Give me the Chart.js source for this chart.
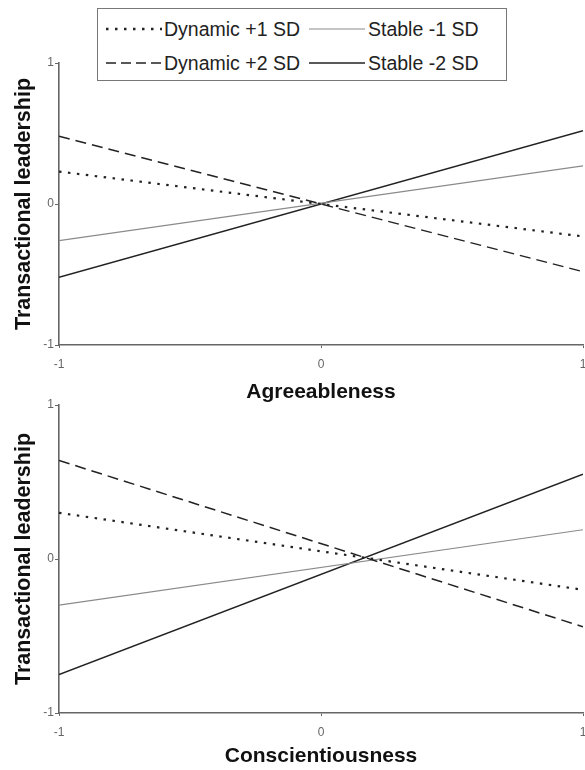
<!DOCTYPE html>
<html>
<head>
<meta charset="utf-8">
<script src="https://cdn.jsdelivr.net/npm/chart.js@4/dist/chart.umd.min.js"></script>
<style>
  html, body { margin: 0; padding: 0; background: #fff; overflow: hidden; width: 585px; height: 770px; }
  #c1 { position: absolute; left: 0; top: 0; }
  #c2 { position: absolute; left: 0; top: 390px; }
  #legend { position: absolute; left: 97px; top: 8px; width: 408px; height: 71px; border: 1px solid #777; background: #fff; z-index: 5;
            font-family: "Liberation Sans", Arial, sans-serif; font-size: 19.5px; color: #222; }
  .lab { position: absolute; white-space: nowrap; line-height: 20px; }
  .sw { position: absolute; }
</style>
</head>
<body>
<canvas id="c1" width="600" height="410"></canvas>
<canvas id="c2" width="600" height="380"></canvas>
<div id="legend"></div>
<script>
// ---- data ----
const xPoints = [-1, 1];
const xTicks = [-1, 0, 1];
const yTicks = [-1, 0, 1];
const seriesNames = ["Dynamic +1 SD", "Dynamic +2 SD", "Stable -1 SD", "Stable -2 SD"];

const agreeDynamic1 = [0.23, -0.23];
const agreeDynamic2 = [0.48, -0.48];
const agreeStable1  = [-0.26, 0.27];
const agreeStable2  = [-0.52, 0.52];

const conscDynamic1 = [0.30, -0.20];
const conscDynamic2 = [0.64, -0.44];
const conscStable1  = [-0.30, 0.19];
const conscStable2  = [-0.75, 0.55];

// ---- styles ----
const styles = [
  { borderColor: '#222', borderWidth: 2.2, borderDash: [2.5, 6.5], svgW: 2.4, svgDash: '2.5 6.5' },
  { borderColor: '#222', borderWidth: 1.5, borderDash: [11, 6], svgW: 1.6, svgDash: '10 5' },
  { borderColor: '#8a8a8a', borderWidth: 1.2, borderDash: [], svgW: 1.2, svgDash: '' },
  { borderColor: '#222', borderWidth: 1.5, borderDash: [], svgW: 1.6, svgDash: '' }
];

function mkDatasets(arrs) {
  return arrs.map((vals, i) => ({
    label: seriesNames[i],
    data: xPoints.map((x, j) => ({ x: x, y: vals[j] })),
    borderColor: styles[i].borderColor,
    borderWidth: styles[i].borderWidth,
    borderDash: styles[i].borderDash,
    pointRadius: 0,
    fill: false,
    tension: 0
  }));
}

const FONT = '"Liberation Sans", Arial, sans-serif';
const axisColor = '#666';

function mkOptions(xTitle, padTop, xAxisH, titlePadBottom) {
  return {
    responsive: false,
    animation: false,
    layout: { padding: { top: padTop, right: 17, left: 0, bottom: 0 } },
    plugins: { legend: { display: false }, tooltip: { enabled: false } },
    scales: {
      x: {
        type: 'linear', min: -1, max: 1,
        afterBuildTicks: s => { s.ticks = xTicks.map(v => ({ value: v })); },
        afterFit: s => { s.height = xAxisH; },
        ticks: { color: '#666', font: { family: FONT, size: 12 }, padding: 9, maxRotation: 0,
                 callback: v => String(v) },
        grid: { drawOnChartArea: false, drawTicks: true, tickLength: 3, color: axisColor, lineWidth: 1 },
        border: { display: true, color: axisColor, width: 1.6 },
        title: { display: true, text: xTitle, color: '#111',
                 font: { family: FONT, size: 21, weight: 'bold', lineHeight: 1.2 },
                 padding: { top: 0, bottom: titlePadBottom } }
      },
      y: {
        type: 'linear', min: -1, max: 1,
        afterBuildTicks: s => { s.ticks = yTicks.map(v => ({ value: v })); },
        afterFit: s => { s.width = 59; },
        ticks: { color: '#666', font: { family: FONT, size: 12 }, padding: 1,
                 callback: v => String(v) },
        grid: { drawOnChartArea: false, drawTicks: true, tickLength: 4, color: axisColor, lineWidth: 1 },
        border: { display: true, color: axisColor, width: 1.6 },
        title: { display: true, text: 'Transactional leadership', color: '#111',
                 font: { family: FONT, size: 21.5, weight: 'bold', lineHeight: 1.2 },
                 padding: { top: 11, bottom: 0 } }
      }
    }
  };
}

new Chart(document.getElementById('c1'), {
  type: 'line',
  data: { datasets: mkDatasets([agreeDynamic1, agreeDynamic2, agreeStable1, agreeStable2]) },
  options: mkOptions('Agreeableness', 63, 65, 5)
});

new Chart(document.getElementById('c2'), {
  type: 'line',
  data: { datasets: mkDatasets([conscDynamic1, conscDynamic2, conscStable1, conscStable2]) },
  options: mkOptions('Conscientiousness', 15, 57, 1)
});

// ---- HTML legend (2 x 2) ----
const legend = document.getElementById('legend');
const order = [0, 2, 1, 3];
order.forEach((si, k) => {
  const row = Math.floor(k / 2), col = k % 2;
  const cy = row === 0 ? 20 : 54;
  const lx = col === 0 ? 8 : 211;
  const tx = col === 0 ? 66 : 270;
  const st = styles[si];
  const svg = document.createElementNS('http://www.w3.org/2000/svg', 'svg');
  svg.setAttribute('class', 'sw');
  svg.setAttribute('width', '56');
  svg.setAttribute('height', '8');
  svg.style.left = lx + 'px';
  svg.style.top = (cy - 4) + 'px';
  const ln = document.createElementNS('http://www.w3.org/2000/svg', 'line');
  ln.setAttribute('x1', '0'); ln.setAttribute('x2', '56');
  ln.setAttribute('y1', '4'); ln.setAttribute('y2', '4');
  ln.setAttribute('stroke', st.borderColor);
  ln.setAttribute('stroke-width', st.svgW);
  if (st.svgDash) ln.setAttribute('stroke-dasharray', st.svgDash);
  svg.appendChild(ln);
  legend.appendChild(svg);
  const sp = document.createElement('span');
  sp.className = 'lab';
  sp.textContent = seriesNames[si];
  sp.style.left = tx + 'px';
  sp.style.top = (cy - 10) + 'px';
  legend.appendChild(sp);
});
</script>
</body>
</html>
